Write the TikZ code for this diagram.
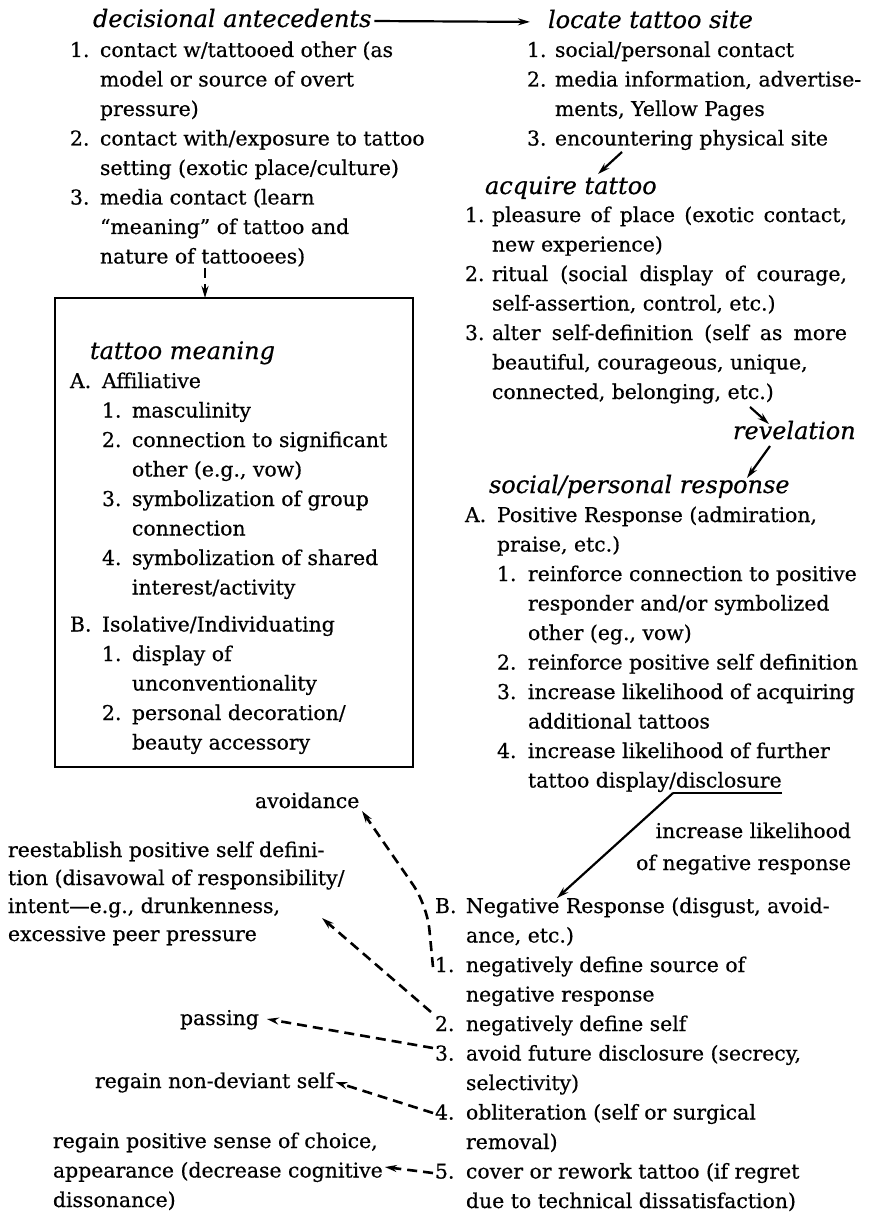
\documentclass[tikz,border=0pt]{standalone}
\usepackage{fontspec}
\setmainfont{DejaVu Serif}[FakeBold=0.5]
\usepackage{array}
\usetikzlibrary{arrows.meta}

\newcommand{\itemfont}{\fontsize{10.2}{14.75}\selectfont}
\newcommand{\headfont}{\fontsize{12}{14.75}\selectfont\itshape}
\newcommand{\jline}[1]{\makebox[177.5pt][s]{#1}}

\tikzset{
  every node/.style={inner sep=0pt, outer sep=0pt, anchor=base west},
  heading/.style={font=\headfont},
  items/.style={font=\itemfont},
  arr/.style={line width=1.1pt, -{Stealth[length=6pt,width=3.5pt]}},
  dasharr/.style={line width=1.3pt, dash pattern=on 5pt off 3pt,
    -{Stealth[length=6pt,width=3.5pt]}},
}

\begin{document}
\begin{tikzpicture}[x=0.5pt, y=-0.5pt]
    \useasboundingbox (0,0) rectangle (869,1214);

    % headings
    \node [heading] (dec) at (93,27) {decisional antecedents};
    \node [heading] (loc) at (548,28) {locate tattoo site};
    \node [heading] (acq) at (485,194) {acquire tattoo};
    \node [heading] (rev) at (733,439) {revelation};
    \node [heading] (soc) at (489,493) {social/personal response};

    % decisional antecedents
    \node [items] (antitems) at (70,57) {\begin{tabular}[t]{@{}p{15pt}@{}l@{}}
      1. & contact w/tattooed other (as\\
         & model or source of overt\\
         & pressure)\\
      2. & contact with/exposure to tattoo\\
         & setting (exotic place/culture)\\
      3. & media contact (learn\\
         & ``meaning'' of tattoo and\\
         & nature of tattooees)
    \end{tabular}};

    % tattoo meaning box
    \node [draw, line width=1.4pt, minimum width=179pt, minimum height=234.5pt,
      anchor=north west] (meaningbox) at (55,298) {};
    \node [heading] (mean) at (90,359) {tattoo meaning};
    \node [items] (meanitems) at (70,388) {\begin{tabular}[t]{@{}p{16pt}@{}p{15pt}@{}l@{}}
      A. & \multicolumn{2}{@{}l@{}}{Affiliative}\\
         & 1. & masculinity\\
         & 2. & connection to significant\\
         &    & other (e.g., vow)\\
         & 3. & symbolization of group\\
         &    & connection\\
         & 4. & symbolization of shared\\
         &    & interest/activity\\[3.75pt]
      B. & \multicolumn{2}{@{}l@{}}{Isolative/Individuating}\\
         & 1. & display of\\
         &    & unconventionality\\
         & 2. & personal decoration/\\
         &    & beauty accessory
    \end{tabular}};

    % locate tattoo site
    \node [items] (locitems) at (527,57) {\begin{tabular}[t]{@{}p{14pt}@{}l@{}}
      1. & social/personal contact\\
      2. & media information, advertise-\\
         & ments, Yellow Pages\\
      3. & encountering physical site
    \end{tabular}};

    % acquire tattoo
    \node [items] (acqitems) at (465,222) {\begin{tabular}[t]{@{}p{13.5pt}@{}l@{}}
      1. & \jline{pleasure of place (exotic contact,}\\
         & new experience)\\
      2. & \jline{ritual (social display of courage,}\\
         & self-assertion, control, etc.)\\
      3. & \jline{alter self-definition (self as more}\\
         & beautiful, courageous, unique,\\
         & connected, belonging, etc.)
    \end{tabular}};

    % social/personal response
    \node [items] (resitems) at (465,522) {\begin{tabular}[t]{@{}p{16pt}@{}p{15.5pt}@{}l@{}}
      A. & \multicolumn{2}{@{}l@{}}{Positive Response (admiration,}\\
         & \multicolumn{2}{@{}l@{}}{praise, etc.)}\\
         & 1. & reinforce connection to positive\\
         &    & responder and/or symbolized\\
         &    & other (eg., vow)\\
         & 2. & reinforce positive self definition\\
         & 3. & increase likelihood of acquiring\\
         &    & additional tattoos\\
         & 4. & increase likelihood of further\\
         &    & tattoo display/disclosure
    \end{tabular}};

    \node [items, anchor=base east] (incr) at (851,838) {\begin{tabular}[t]{@{}r@{}}
      increase likelihood\\[1.25pt]
      of negative response
    \end{tabular}};

    \node [items] (negitems) at (435,913) {\begin{tabular}[t]{@{}p{15.5pt}@{}l@{}}
      B. & Negative Response (disgust, avoid-\\
         & ance, etc.)\\
      1. & negatively define source of\\
         & negative response\\
      2. & negatively define self\\
      3. & avoid future disclosure (secrecy,\\
         & selectivity)\\
      4. & obliteration (self or surgical\\
         & removal)\\
      5. & cover or rework tattoo (if regret\\
         & due to technical dissatisfaction)
    \end{tabular}};

    % coping outcomes
    \node [items] (avoid) at (255,808) {avoidance};
    \node [items, font=\fontsize{10.2}{14}\selectfont] (reest) at (8,857) {\begin{tabular}[t]{@{}l@{}}
      reestablish positive self defini-\\
      tion (disavowal of responsibility/\\
      intent---e.g., drunkenness,\\
      excessive peer pressure
    \end{tabular}};
    \node [items] (passing) at (180,1025) {passing};
    \node [items] (regself) at (95,1088) {regain non-deviant self};
    \node [items] (regpos) at (53,1148) {\begin{tabular}[t]{@{}l@{}}
      regain positive sense of choice,\\
      appearance (decrease cognitive\\
      dissonance)
    \end{tabular}};

    \coordinate (encA) at (622,152);
    \coordinate (acqA) at (598,174);
    \coordinate (conA) at (750,407);
    \coordinate (revA) at (769,424);
    \coordinate (revB) at (770,446);
    \coordinate (socA) at (747,478);
    \coordinate (discA) at (673,793);
    \coordinate (discB) at (782,793);
    \coordinate (negA) at (557,898);
    \coordinate (antA) at (205,268);

    \coordinate (negOne) at (433,967);
    \coordinate (bendB) at (427,905);
    \coordinate (avA) at (362,811);
    \coordinate (negTwo) at (431,1012);
    \coordinate (reA) at (322,918);
    \coordinate (negThree) at (433,1048);
    \coordinate (negFour) at (433,1113);
    \coordinate (negFive) at (433,1173);

    \draw [arr, shorten <=1.5pt, shorten >=9pt] ([yshift=3pt]dec.base east) -- ([yshift=3pt]loc.base west);
    \draw [arr] (encA) -- (acqA);
    \draw [arr] (conA) -- (revA);
    \draw [arr] (revB) -- (socA);
    \draw [line width=1.1pt] (discB) -- (discA);
    \draw [arr] (discA) -- (negA);
    \draw [dasharr] (antA) -- (antA |- meaningbox.north);

    \draw [dasharr, rounded corners=12pt] (negOne) -- (bendB) -- (avA);
    \draw [dasharr] (negTwo) -- (reA);
    \draw [dasharr] (negThree) -- ([xshift=4pt,yshift=3pt]passing.base east);
    \draw [dasharr] (negFour) -- ([xshift=1pt,yshift=3pt]regself.base east);
    \draw [dasharr] (negFive) -- ([xshift=1pt,yshift=3pt]regpos.base east |- negFive);
\end{tikzpicture}
\end{document}
